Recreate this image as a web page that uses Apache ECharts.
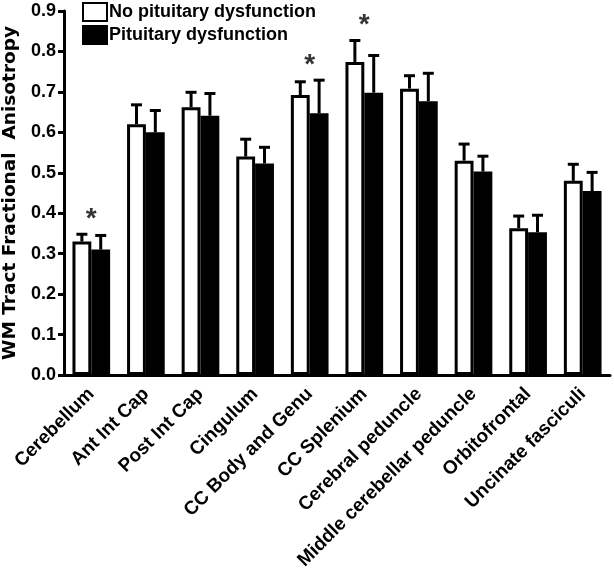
<!DOCTYPE html>
<html><head><meta charset="utf-8">
<script src="https://cdn.jsdelivr.net/npm/echarts@6/dist/echarts.min.js"></script>
<style>html,body{margin:0;padding:0;background:#fff}#c{width:614px;height:568px}</style>
</head><body><div id="c"></div>
<script>
const categories = ['Cerebellum','Ant Int Cap','Post Int Cap','Cingulum','CC Body and Genu','CC Splenium','Cerebral peduncle','Middle cerebellar peduncle','Orbitofrontal','Uncinate fasciculi'];
const noDysMean = [0.330, 0.620, 0.662, 0.540, 0.692, 0.774, 0.708, 0.530, 0.363, 0.480];
const noDysErr  = [0.018, 0.048, 0.037, 0.043, 0.033, 0.053, 0.032, 0.041, 0.030, 0.041];
const dysMean   = [0.310, 0.600, 0.641, 0.523, 0.647, 0.698, 0.677, 0.503, 0.353, 0.455];
const dysErr    = [0.035, 0.054, 0.055, 0.040, 0.082, 0.092, 0.069, 0.038, 0.042, 0.046];
const significant = [1, 0, 0, 0, 1, 1, 0, 0, 0, 0];
const yTicks = ['0.0','0.1','0.2','0.3','0.4','0.5','0.6','0.7','0.8','0.9'];

const FONT = 'Liberation Sans, Arial, sans-serif';
const GAP = 0.31;

function errSeries(means, errs, side) {
  return {
    type: 'custom',
    silent: true,
    z: 1,
    data: means.map((m, i) => [i, m, m + errs[i]]),
    renderItem: function (params, api) {
      const i = api.value(0);
      const band = api.size([1, 0])[0];
      const bw = band * (1 - GAP) / 2;
      const cx = api.coord([i, 0])[0] + side * bw / 2;
      const yTop = api.coord([i, api.value(1)])[1];
      const yCap = api.coord([i, api.value(2)])[1];
      const half = 5.5;
      return {
        type: 'group',
        children: [
          {type: 'line', shape: {x1: cx, y1: yTop, x2: cx, y2: yCap}, style: {stroke: '#000', lineWidth: 3}},
          {type: 'line', shape: {x1: cx - half, y1: yCap, x2: cx + half, y2: yCap}, style: {stroke: '#000', lineWidth: 3}}
        ]
      };
    }
  };
}

const starData = [];
significant.forEach((s, i) => {
  if (s) starData.push([i, Math.max(noDysMean[i] + noDysErr[i], dysMean[i] + dysErr[i])]);
});

const chart = echarts.init(document.getElementById('c'), null, {renderer: 'canvas'});
chart.setOption({
  animation: false,
  backgroundColor: '#fff',
  textStyle: {fontFamily: FONT},
  grid: {left: 64, right: 4, top: 11, bottom: 193, containLabel: false, outerBoundsMode: 'none'},
  legend: {
    orient: 'vertical', left: 82, top: 2, itemGap: 3, padding: 0,
    itemWidth: 24, itemHeight: 18,
    data: [
      {name: 'No pituitary dysfunction', icon: 'rect'},
      {name: 'Pituitary dysfunction', icon: 'rect'}
    ],
    textStyle: {fontFamily: FONT, fontWeight: 'bold', fontSize: 18, color: '#000', padding: [0, 0, 0, -3]}
  },
  xAxis: {
    type: 'category', data: categories,
    axisLine: {lineStyle: {color: '#000', width: 3}},
    axisTick: {alignWithLabel: true, length: 6, lineStyle: {color: '#000', width: 3}},
    axisLabel: {rotate: 45, margin: 16, color: '#000', fontFamily: FONT, fontWeight: 'bold', fontSize: 19, interval: 0},
    splitLine: {show: false}
  },
  yAxis: {
    type: 'value', min: 0, max: 0.9, interval: 0.1,
    name: 'WM Tract Fractional  Anisotropy', nameLocation: 'middle', nameGap: 42,
    nameTextStyle: {fontFamily: 'DejaVu Sans', fontWeight: 'bold', fontSize: 18.5, color: '#000'},
    axisLine: {show: true, lineStyle: {color: '#000', width: 3}},
    axisTick: {show: true, length: 6, lineStyle: {color: '#000', width: 3}},
    axisLabel: {color: '#000', fontFamily: FONT, fontWeight: 'bold', fontSize: 18, margin: 8,
      formatter: v => yTicks[Math.round(v * 10)]},
    splitLine: {show: false}
  },
  series: [
    {
      name: 'No pituitary dysfunction', type: 'bar', data: noDysMean,
      barGap: '0%', barCategoryGap: (GAP * 100) + '%', z: 2,
      itemStyle: {color: '#fff', borderColor: '#000', borderWidth: 3}
    },
    {
      name: 'Pituitary dysfunction', type: 'bar', data: dysMean,
      barGap: '0%', barCategoryGap: (GAP * 100) + '%', z: 2,
      itemStyle: {color: '#000', borderColor: '#000', borderWidth: 3}
    },
    errSeries(noDysMean, noDysErr, -1),
    errSeries(dysMean, dysErr, 1),
    {
      type: 'scatter', data: starData, symbolSize: 0, silent: true,
      label: {show: true, formatter: '*', position: 'top', distance: 1, color: '#000',
        fontFamily: FONT, fontWeight: 'bold', fontSize: 28}
    }
  ]
});
</script></body></html>
